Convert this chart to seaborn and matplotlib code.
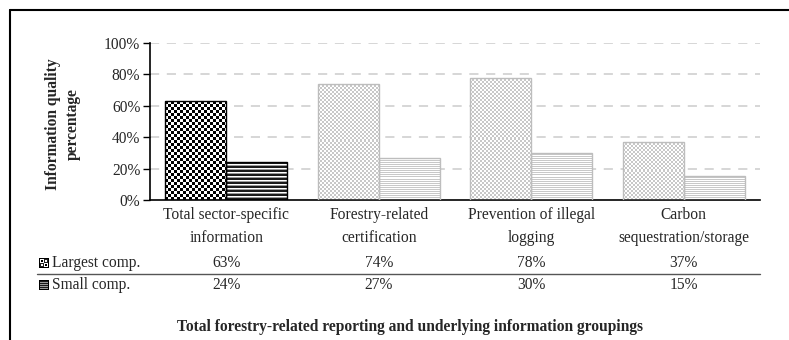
import numpy as np
import pandas as pd
import matplotlib
matplotlib.use("Agg")
import matplotlib.pyplot as plt
import seaborn as sns
from matplotlib.lines import Line2D

categories = ["Total sector-specific\ninformation", "Forestry-related\ncertification",
              "Prevention of illegal\nlogging", "Carbon\nsequestration/storage"]
series_names = ["Largest comp.", "Small comp."]
largest_vals = [0.63, 0.74, 0.78, 0.37]
small_vals = [0.24, 0.27, 0.30, 0.15]
value_labels_largest = ["63%", "74%", "78%", "37%"]
value_labels_small = ["24%", "27%", "30%", "15%"]
ytick_vals = [0.0, 0.2, 0.4, 0.6, 0.8, 1.0]
ytick_labels = ["0%", "20%", "40%", "60%", "80%", "100%"]

df = pd.DataFrame({
    "category": categories * 2,
    "series": [series_names[0]] * 4 + [series_names[1]] * 4,
    "value": largest_vals + small_vals,
})

sns.set_theme(style="white")
plt.rcParams["font.family"] = ["Liberation Serif", "DejaVu Serif"]
FS = 11.2

W, H = 789, 340
fig = plt.figure(figsize=(W / 100, H / 100), dpi=100)
fig.patch.set_facecolor("white")

ax_l, ax_r, ax_top, ax_bot = 150, 760, 43, 200
ax = fig.add_axes([ax_l / W, 1 - ax_bot / H, (ax_r - ax_l) / W, (ax_bot - ax_top) / H])

sns.barplot(data=df, x="category", y="value", hue="series", ax=ax,
            order=categories, hue_order=series_names, width=0.8,
            palette=["white", "white"], legend=False, saturation=1)

ax.set_xlim(-0.5, 3.5)
ax.set_ylim(0, 1.0)
ax.set_yticks(ytick_vals)
ax.set_yticklabels(ytick_labels, fontsize=FS)
ax.set_xticks(range(4))
ax.set_xticklabels(categories, fontsize=FS, linespacing=1.55)
ax.tick_params(axis="x", length=0, pad=5)
ax.tick_params(axis="y", length=5, width=1, color="black", direction="out", pad=2, left=True)
ax.set_xlabel("")
ax.set_ylabel("")
ax.set_axisbelow(True)
ax.yaxis.grid(True, color="#cccccc", linestyle=(0, (6, 5)), linewidth=1.1)
for g in ax.get_ygridlines()[:1]:
    g.set_visible(False)
for side in ["top", "right"]:
    ax.spines[side].set_visible(False)
for side in ["left", "bottom"]:
    ax.spines[side].set_color("black")
    ax.spines[side].set_linewidth(1.2)


def checker(nx, ny, cell, c1, c2):
    yy, xx = np.mgrid[0:ny, 0:nx]
    m = ((xx // cell) + (yy // cell)) % 2 == 0
    img = np.where(m[..., None], np.array(c1), np.array(c2))
    return img


def stripes(nx, ny, rows):
    yy = np.arange(ny) % len(rows)
    img = np.array(rows)[yy][:, None, :].repeat(nx, axis=1)
    return img


def rgb(h):
    h = h.lstrip("#")
    return [int(h[i:i + 2], 16) / 255 for i in (0, 2, 4)]


BLACK, WHITE = rgb("#000000"), rgb("#ffffff")
LG, MG, DG = rgb("#c8c8c8"), rgb("#9a9a9a"), rgb("#1a1a1a")

fig.canvas.draw()
for si, cont in enumerate(ax.containers):
    for ci, bar in enumerate(cont):
        x0, w, h = bar.get_x(), bar.get_width(), bar.get_height()
        p0 = ax.transData.transform((x0, 0))
        p1 = ax.transData.transform((x0 + w, h))
        nx, ny = max(int(round(p1[0] - p0[0])), 1), max(int(round(p1[1] - p0[1])), 1)
        dark = ci == 0
        if si == 0:
            tex = checker(nx, ny, 3 if dark else 2, BLACK if dark else LG, WHITE)
        else:
            rows = [DG, DG, MG, WHITE] if dark else [LG, WHITE, LG, WHITE]
            tex = stripes(nx, ny, rows)
        bar.set_facecolor("none")
        bar.set_edgecolor("black" if dark else "#bdbdbd")
        bar.set_linewidth(1.0)
        bar.set_zorder(3)
        im = ax.imshow(tex, extent=[x0, x0 + w, 0, h], aspect="auto",
                       interpolation="nearest", origin="lower", zorder=2)
        im.set_clip_path(bar)

ax.set_xlim(-0.5, 3.5)
ax.set_ylim(0, 1.0)

# y-axis title
fig.text(63 / W, 1 - 124 / H, "Information quality\npercentage", rotation=90,
         ha="center", va="center", fontsize=FS, fontweight="bold", linespacing=1.3)

# data table beneath the chart
row_y = [263, 285]
cx = [ax_l + (ax_r - ax_l) * (i + 0.5) / 4 for i in range(4)]
for labels, yy in [(value_labels_largest, row_y[0]), (value_labels_small, row_y[1])]:
    for x, t in zip(cx, labels):
        fig.text(x / W, 1 - yy / H, t, ha="center", va="center", fontsize=FS)

for name, yy in zip(series_names, row_y):
    fig.text(52 / W, 1 - yy / H, name, ha="left", va="center", fontsize=FS)

fig.add_artist(Line2D([37 / W, ax_r / W], [1 - 274 / H, 1 - 274 / H],
                      color="#555555", linewidth=1.0))

# key icons for the table rows
icon_sz = 10
for k, yy in enumerate(row_y):
    iax = fig.add_axes([39 / W, 1 - (yy + icon_sz / 2) / H, icon_sz / W, icon_sz / H])
    icon = np.zeros((icon_sz, icon_sz, 3))
    if k == 0:
        icon[1:5, 1:5] = WHITE
        icon[5:9, 5:9] = WHITE
        icon[2:4, 2:4] = BLACK
        icon[6:8, 6:8] = BLACK
        icon[1:5, 5:9] = rgb("#222222")
        icon[5:9, 1:5] = rgb("#222222")
        icon[2:4, 6:8] = WHITE
        icon[6:8, 2:4] = WHITE
    else:
        for r in range(1, icon_sz - 1):
            icon[r, 1:-1] = MG if r % 2 == 0 else DG
    iax.imshow(icon, interpolation="nearest", aspect="auto")
    iax.set_axis_off()

# bottom caption
fig.text(410 / W, 1 - 327 / H,
         "Total forestry-related reporting and underlying information groupings",
         ha="center", va="center", fontsize=FS, fontweight="bold")

# enclosing frame (top and left edges)
fig.add_artist(Line2D([10 / W, 10 / W], [0, 1 - 10 / H], color="black", linewidth=1.5))
fig.add_artist(Line2D([10 / W, 1], [1 - 10 / H, 1 - 10 / H], color="black", linewidth=1.5))

fig.savefig("out.png", dpi=100, facecolor="white")
